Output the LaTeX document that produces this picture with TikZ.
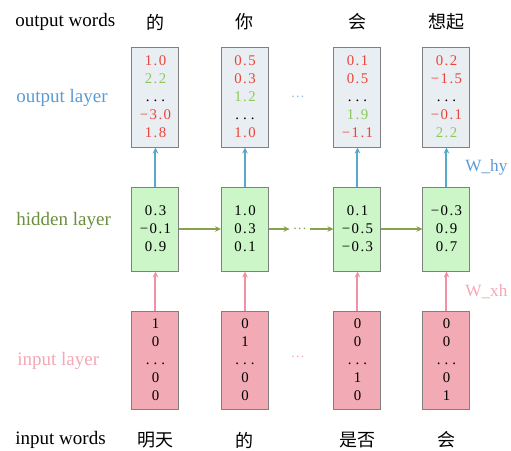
\documentclass[tikz,border=0pt]{standalone}
\usepackage{fontspec}
\setmainfont{Liberation Serif}
\newfontfamily\cjk{Noto Sans CJK SC}
\newfontfamily\numfont[LetterSpace=10]{Liberation Serif}
\usepackage{tikz}
\usetikzlibrary{arrows.meta,positioning}
\definecolor{OutFill}{HTML}{E9EEF2}
\definecolor{HidFill}{HTML}{CCF5C8}
\definecolor{InFill}{HTML}{F2AAB4}
\definecolor{BoxEdge}{HTML}{808080}
\definecolor{OutBlue}{HTML}{56A9C9}
\definecolor{InPink}{HTML}{F291A3}
\definecolor{HidGreen}{HTML}{86A24A}
\definecolor{LblBlue}{HTML}{5B9BD5}
\definecolor{LblGreen}{HTML}{6A8F3D}
\definecolor{LblPink}{HTML}{F4A7B4}
\definecolor{NumRed}{HTML}{E8453C}
\definecolor{NumGreen}{HTML}{8CC859}
\newcommand{\vdotsrow}{.\hspace{2pt}.\hspace{2pt}.}

\begin{document}
\begin{tikzpicture}[
  x=0.5pt,y=-0.5pt,
  >={Stealth[length=3pt,width=2.8pt]},
  vecbox/.style={
    draw=BoxEdge,
    line width=0.5pt,
    minimum width=23.5pt,
    inner sep=0pt,
    align=center,
    font=\numfont\fontsize{7.4}{9}\selectfont
  },
  outbox/.style={vecbox,fill=OutFill,minimum height=50pt,text=NumRed},
  hidbox/.style={vecbox,fill=HidFill,minimum height=42pt},
  inbox/.style={vecbox,fill=InFill,minimum height=49pt},
  rowlabel/.style={anchor=west,inner sep=0pt,font=\fontsize{9.5}{11}\selectfont},
  wlabel/.style={anchor=west,inner sep=0pt,font=\fontsize{8.6}{10}\selectfont},
  word/.style={font=\cjk\fontsize{9}{11}\selectfont},
  uparrow/.style={->,line width=1pt},
  gap/.style={inner sep=0pt,minimum width=10pt,font=\fontsize{7}{8}\selectfont}
]
\useasboundingbox (0,0) rectangle (511,451);

% Row labels on the left.
\node[rowlabel] (outwords) at (15,22) {output words};
\node[rowlabel,text=LblBlue] (outlayer) at (16,98) {output layer};
\node[rowlabel,text=LblGreen] (hidlayer) at (16,221) {hidden layer};
\node[rowlabel,text=LblPink] (inlayer) at (17,361) {input layer};
\node[rowlabel] (inwords) at (15,440) {input words};

% Output words.
\node[word] (ow1) at (155.5,22) {的};
\node[word] (ow2) at (245,22) {你};
\node[word] (ow3) at (357.5,22) {会};
\node[word] (ow4) at (446.5,22) {想起};

% Output layer.
\node[outbox] (o1) at (155.5,97)
  {1.0\\\textcolor{NumGreen}{2.2}\\\textcolor{black}{\vdotsrow}\\−3.0\\1.8};
\node[outbox] (o2) at (245,97)
  {0.5\\0.3\\\textcolor{NumGreen}{1.2}\\\textcolor{black}{\vdotsrow}\\1.0};
\node[outbox] (o3) at (357.5,97)
  {0.1\\0.5\\\textcolor{black}{\vdotsrow}\\\textcolor{NumGreen}{1.9}\\−1.1};
\node[outbox] (o4) at (446.5,97)
  {0.2\\−1.5\\\textcolor{black}{\vdotsrow}\\−0.1\\\textcolor{NumGreen}{2.2}};
\node[gap,text=LblBlue!70] (odots) at (298,97) {\dots};

% Hidden layer.
\node[hidbox] (h1) at (155.5,229) {0.3\\−0.1\\0.9};
\node[hidbox] (h2) at (245,229) {1.0\\0.3\\0.1};
\node[hidbox] (h3) at (357.5,229) {0.1\\−0.5\\−0.3};
\node[hidbox] (h4) at (446.5,229) {−0.3\\0.9\\0.7};
\node[gap,text=HidGreen] (hdots) at (300,229) {\dots};

% Input layer.
\node[inbox] (i1) at (155.5,360) {1\\0\\\vdotsrow\\0\\0};
\node[inbox] (i2) at (245,360) {0\\1\\\vdotsrow\\0\\0};
\node[inbox] (i3) at (357.5,360) {0\\0\\\vdotsrow\\1\\0};
\node[inbox] (i4) at (446.5,360) {0\\0\\\vdotsrow\\0\\1};
\node[gap,text=LblPink] (idots) at (298,357) {\dots};

% Input words.
\node[word] (iw1) at (155.5,440) {明天};
\node[word] (iw2) at (245,440) {的};
\node[word] (iw3) at (357.5,440) {是否};
\node[word] (iw4) at (446.5,440) {会};

% Connections.
\foreach \k in {1,2,3,4}{
  \draw[uparrow,OutBlue] (h\k) -- (o\k);
  \draw[uparrow,InPink] (i\k) -- (h\k);
}
\draw[uparrow,HidGreen] (h1) -- (h2);
\draw[uparrow,HidGreen] (h2.east) -- (hdots.west);
\draw[uparrow,HidGreen] (hdots.east) -- (h3.west);
\draw[uparrow,HidGreen] (h3) -- (h4);

% Weight labels.
\node[wlabel,text=LblBlue] (why) at (465,167) {W\_hy};
\node[wlabel,text=LblPink] (wxh) at (465,292) {W\_xh};
\end{tikzpicture}
\end{document}
